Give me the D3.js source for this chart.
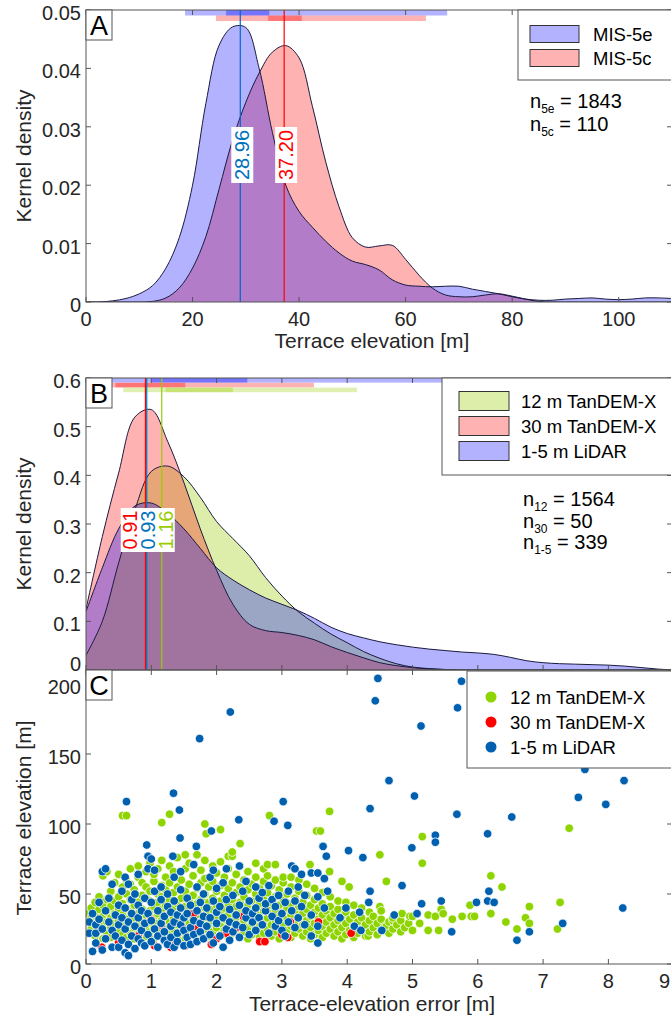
<!DOCTYPE html>
<html><head><meta charset="utf-8">
<script src="https://cdn.jsdelivr.net/npm/d3@7"></script>
<style>body{margin:0;background:#fff}svg{display:block;font-family:"Liberation Sans",Arial,sans-serif}</style>
</head><body><svg id="c" width="671" height="1020"></svg>
<script>
// ---------- DATA ----------
// Panel A: kernel density of terrace elevation
const elevGrid = [0,2.5,5,7.5,10,12.5,15,17.5,20,22.5,25,27.5,30,32.5,35,37.5,40,42.5,45,47.5,50,52.5,55,57.5,60,62.5,65,67.5,70,72.5,75,77.5,80,82.5,85,87.5,90,92.5,95,97.5,100,102.5,105,107.5,110];
const dens5e = [0,0,0.0002,0.0006,0.0014,0.0028,0.0058,0.011,0.020,0.034,0.044,0.0471,0.0470,0.040,0.029,0.020,0.0155,0.0128,0.0104,0.0084,0.0070,0.0064,0.0055,0.0038,0.0029,0.0027,0.0026,0.0027,0.0027,0.0022,0.0018,0.0014,0.0009,0.0005,0.0003,0.0003,0.0005,0.0006,0.0007,0.0005,0.0004,0.0005,0.0007,0.0007,0.0006];
const dens5c = [0,0,0,0,0,0.0001,0.0007,0.0024,0.0058,0.0112,0.0194,0.0277,0.0342,0.0392,0.0428,0.0439,0.0418,0.0335,0.0240,0.0163,0.0110,0.0094,0.0096,0.0097,0.0073,0.0046,0.0024,0.0012,0.0009,0.0009,0.0012,0.0014,0.0010,0.0005,0.0001,0,0,0,0,0,0,0,0,0,0];
const seriesA = ["MIS-5e","MIS-5c"];
const medianA = [28.96, 37.20];
const rangeA = [[18.6,67.8],[24.4,63.8]];      // light bars
const coreA = [[26.3,34.4],[34.2,40.5]];       // dark bars
const nLabelsA = [["5e","1843"],["5c","110"]];
const xTicksA = [0,20,40,60,80,100];
const yTicksA = [0,0.01,0.02,0.03,0.04,0.05];

// Panel B: kernel density of terrace-elevation error
const errGrid = [0,0.25,0.5,0.75,1,1.25,1.5,1.75,2,2.25,2.5,2.75,3,3.25,3.5,3.75,4,4.25,4.5,4.75,5,5.25,5.5,5.75,6,6.25,6.5,6.75,7,7.25,7.5,7.75,8,8.25,8.5,8.75,9];
const dens12 = [0.03,0.10,0.22,0.33,0.408,0.419,0.397,0.355,0.305,0.27,0.235,0.19,0.152,0.12,0.096,0.074,0.056,0.038,0.024,0.013,0.006,0.003,0.001,0,0,0,0,0,0,0,0,0,0,0,0,0,0];
const dens30 = [0.125,0.274,0.405,0.52,0.535,0.47,0.385,0.29,0.205,0.135,0.094,0.081,0.077,0.071,0.062,0.048,0.036,0.025,0.015,0.009,0.005,0.002,0.001,0,0,0,0,0,0,0,0,0,0,0,0,0,0];
const dens15 = [0.12,0.21,0.29,0.337,0.343,0.322,0.29,0.25,0.21,0.185,0.165,0.148,0.135,0.122,0.106,0.088,0.075,0.066,0.058,0.052,0.047,0.043,0.040,0.037,0.035,0.032,0.026,0.019,0.015,0.013,0.012,0.011,0.010,0.008,0.005,0.002,0];
const seriesB = ["12 m TanDEM-X","30 m TanDEM-X","1-5 m LiDAR"];
const medianB = [1.16, 0.91, 0.93];
const rangeB = [[0.57,4.15],[0.4,3.49],[0.4,6.3]];
const coreB = [[1.22,2.25],[0.45,1.52],[1.0,2.47]];
const nLabelsB = [["12","1564"],["30","50"],["1-5","339"]];
const xTicksB = [0,1,2,3,4,5,6,7,8,9];
const yTicksB = [0,0.1,0.2,0.3,0.4,0.5,0.6];

// Panel C: scatter, each row = [error, elevation, elevation, ...]
const pts12 = [[0.02,22,30,36],[0.08,25,33,40],[0.14,20,28,35,44],[0.2,24,31,39,48],[0.26,18,27,34,42,63],[0.32,22,30,37,46,66],[0.38,19,26,33,41,52],[0.44,24,29,36,45,58],[0.5,17,23,31,39,48,64],[0.56,21,28,35,43,55,106],[0.62,19,25,32,40,50,60,106],[0.68,22,29,37,46,57,68],[0.74,18,26,33,42,53],[0.8,21,28,36,44,62,70],[0.86,16,24,31,39,49,58],[0.92,20,27,35,47,55,66],[0.98,23,30,38,45,52,72],[1.04,18,26,33,41,59,64],[1.1,21,29,36,44,50,68],[1.16,24,31,39,48,56,74,101],[1.22,19,27,34,42,53,62],[1.28,22,30,37,46,58,70,107],[1.34,17,25,33,40,51,66],[1.4,20,28,35,43,55,76],[1.46,23,31,38,47,60],[1.52,18,26,34,41,52,68,78],[1.58,21,29,36,45,57,72],[1.64,24,32,39,49,63],[1.7,19,27,35,43,54,78],[1.76,22,30,38,46,58,67],[1.82,25,33,40,50,61,74,100],[1.84,93],[1.88,20,28,36,44,55],[1.94,23,31,39,47,59,70],[2.0,18,26,34,42,52,65],[2.06,21,29,37,45,56,73,96],[2.12,24,32,40,49,62],[2.18,19,27,35,43,54,68,77],[2.24,22,30,38,46,58,77,80],[2.3,25,33,41,51,64],[2.36,20,28,36,44,55,70,86],[2.42,23,31,39,48,60],[2.48,18,26,34,42,53,66],[2.54,21,29,37,45,57],[2.6,24,32,40,50,62,72],[2.66,19,27,35,43,54],[2.72,22,30,38,47,59,68],[2.78,25,33,41,51,63,71],[2.81,106],[2.84,20,28,36,44,56],[2.9,23,31,39,48,60,71],[2.96,18,26,34,42,53],[3.02,21,29,37,46,58,62],[3.08,24,32,40,50],[3.14,19,27,35,43,55,62],[3.2,22,30,38,47],[3.26,25,33,41,52,60],[3.32,20,28,36,44],[3.38,23,31,39,49,57],[3.43,71],[3.44,18,26,34,42],[3.5,21,29,37,46,54],[3.53,95],[3.56,24,32,40],[3.59,95],[3.62,19,27,35,43,51],[3.68,22,30,38],[3.73,109,66],[3.74,25,33,41,48],[3.8,20,28,36],[3.86,23,31,39,45],[3.92,18,26,34,59],[3.98,21,29,37,44],[4.03,55],[4.04,24,32],[4.1,19,27,35,42],[4.16,22,30],[4.22,25,33,40],[4.28,20,28],[4.32,20],[4.34,23,31,37],[4.4,26,34],[4.46,21,29],[4.5,78,41],[4.52,24,32,38],[4.58,27],[4.6,27,59],[4.64,22,30],[4.7,25,31,33],[4.76,28],[4.82,23,31],[4.84,36],[4.88,26],[4.94,29],[4.96,34],[5.0,24,34],[5.11,29],[5.15,91,72],[5.24,35,24],[5.35,34],[5.4,24],[5.44,39],[5.47,36],[5.61,32],[5.76,34],[5.88,42],[5.9,34],[5.95,34],[6.2,63,36],[6.37,55],[6.43,30],[6.6,25],[6.73,33],[6.79,29,41],[7.22,25],[7.26,44],[7.4,97]];
const pts30 = [[0.24,12],[0.3,18],[0.5,16],[0.8,20],[0.99,32],[1.05,13],[1.15,28],[1.3,12],[1.37,14],[1.5,25],[1.52,13],[1.65,36],[1.67,25],[1.92,14],[2.0,18],[2.15,22],[2.3,26],[2.41,34],[2.66,16],[2.74,16],[3.0,21],[3.09,19],[3.13,30],[3.56,30],[4.06,22]];
const pts15 = [[0.05,22,30],[0.1,9,36],[0.15,22,28,15],[0.2,32,44],[0.25,10,66,25],[0.3,68,18,38],[0.35,30,47],[0.4,57,12,24],[0.45,35,20],[0.5,12,42,28],[0.55,17,33,52],[0.6,8,62,25,40],[0.62,116],[0.65,6,57,14,30],[0.7,20,36,46],[0.75,11,27,50],[0.8,64,18,33,42],[0.85,15,24,38],[0.9,29,47,13],[0.93,85],[0.95,77,68,21,36],[1.0,75,16,31,44],[1.05,67,25,52],[1.1,12,38,20],[1.15,29,46,55],[1.2,17,34,23],[1.25,41,14,50],[1.3,27,37,19],[1.33,77],[1.34,122],[1.35,62,30,45,12],[1.4,22,35,16],[1.43,110],[1.44,90],[1.45,66,28,40,53],[1.5,13,24,33],[1.55,19,47,36],[1.6,26,14,42],[1.65,71,31,21],[1.69,84],[1.7,38,16,55],[1.74,161],[1.75,23,44,29],[1.8,34,18,50],[1.85,27,40],[1.9,21,62,33],[1.92,95],[1.95,67,15,45],[2.0,29,37,54],[2.05,20,41],[2.1,12,33,58],[2.15,68,25,46],[2.2,30,17,39],[2.21,180],[2.25,49,23],[2.3,35,28],[2.34,103],[2.35,70,42,19],[2.4,26,52],[2.45,59,33,38],[2.5,45,21],[2.55,30,36],[2.6,40,24,55],[2.65,33,47],[2.7,28,51],[2.75,38,43],[2.8,22,56],[2.85,34,46],[2.88,102],[2.9,41,27],[2.95,49,31],[3.0,36,24],[3.02,116],[3.05,44,20],[3.09,99],[3.1,30,52],[3.15,70,38],[3.2,68,26,45],[3.25,33,55],[3.3,64,41],[3.35,28,49],[3.45,65,35,20],[3.55,65,48,27,15],[3.63,84],[3.65,61,40],[3.68,77],[3.7,52],[3.89,33],[3.98,40],[4.02,81],[4.11,27],[4.19,37],[4.21,24],[4.24,76],[4.33,44],[4.35,52,111],[4.43,188],[4.47,204],[4.53,24],[4.64,131],[4.72,35],[4.84,56],[4.99,83],[5.03,120],[5.07,36],[5.13,170],[5.14,43],[5.35,92,87],[5.44,45],[5.6,23],[5.68,107],[5.69,183],[5.75,202],[5.98,44],[6.15,93,45],[6.17,52],[6.25,44],[6.52,105],[6.6,17],[6.79,23],[7.3,29],[7.54,119],[7.64,139],[7.96,114],[8.22,40],[8.24,131]];
const seriesC = ["12 m TanDEM-X","30 m TanDEM-X","1-5 m LiDAR"];
const yTicksC = [0,50,100,150,200];

// ---------- STYLE ----------
const FONT = 20, AXC = "#262626", BOXC = "#555";
const fillBlue = "#0000ff", fillRed = "#ff0000", fillGreen = "#99cc00";
const lineBlue = "#0066cc", lineRed = "#ff0000";
const outline = "#1a1a40";
const dotCols = ["#8ed400", "#ff0000", "#0060b0"];

const svg = d3.select("#c");
const L = 86, R = 672, W = 671;

function frame(x, y, xt, yt, showXLabels, yFmt, yLabelShift) {
  const [y0, y1] = y.range(); // bottom, top
  const g = svg.append("g");
  xt.forEach(t => {
    g.append("line").attr("x1", x(t)).attr("x2", x(t)).attr("y1", y0).attr("y2", y0 - 5).attr("stroke", BOXC);
    g.append("line").attr("x1", x(t)).attr("x2", x(t)).attr("y1", y1).attr("y2", y1 + 5).attr("stroke", BOXC);
  });
  yt.forEach(t => {
    g.append("line").attr("x1", L).attr("x2", L + 5).attr("y1", y(t)).attr("y2", y(t)).attr("stroke", BOXC);
    g.append("line").attr("x1", R - 5).attr("x2", R).attr("y1", y(t)).attr("y2", y(t)).attr("stroke", BOXC);
  });
  g.append("rect").attr("x", L).attr("y", y1).attr("width", R - L).attr("height", y0 - y1)
    .attr("fill", "none").attr("stroke", BOXC).attr("stroke-width", 1);
  yt.forEach(t => {
    g.append("text").attr("x", L - 5).attr("y", y(t) + 3 + (yLabelShift ? yLabelShift(t) : 0))
      .attr("text-anchor", "end").attr("dominant-baseline", "central")
      .attr("font-size", FONT).attr("fill", AXC).text(yFmt(t));
  });
  if (showXLabels) xt.forEach(t => {
    const px = x(t);
    const overflow = px + 7 > W;   // keep the last label inside the picture
    g.append("text").attr("x", overflow ? W - 1 : px).attr("y", y0 + 17)
      .attr("text-anchor", overflow ? "end" : "middle")
      .attr("dominant-baseline", "central").attr("font-size", FONT).attr("fill", AXC).text(t);
  });
}
function panelLetter(ch, top) {
  svg.append("rect").attr("x", L).attr("y", top).attr("width", 26).attr("height", 30)
    .attr("fill", "#fff").attr("stroke", BOXC);
  svg.append("text").attr("x", L + 13).attr("y", top + 16).attr("text-anchor", "middle")
    .attr("dominant-baseline", "central").attr("font-size", 27).attr("fill", "#000").text(ch);
}
function yTitle(txt, cy) {
  svg.append("text").attr("transform", `translate(23,${cy}) rotate(-90)`).attr("text-anchor", "middle")
    .attr("dominant-baseline", "central").attr("font-size", 21).attr("fill", AXC).text(txt);
}
function xTitle(txt, cy) {
  svg.append("text").attr("x", 372).attr("y", cy).attr("text-anchor", "middle")
    .attr("dominant-baseline", "central").attr("font-size", 21).attr("fill", AXC).text(txt);
}
function nText(x0, y0, sub, val) {
  const t = svg.append("text").attr("x", x0).attr("y", y0).attr("font-size", FONT).attr("fill", "#000");
  t.append("tspan").text("n");
  t.append("tspan").attr("dy", 5).attr("font-size", 12).text(sub);
  t.append("tspan").attr("dy", -5).text(" = " + val);
}

// ================= PANEL A =================
const xA = d3.scaleLinear().domain([0, 110]).range([L, R]);
const yA = d3.scaleLinear().domain([0, 0.05]).range([302, 10]);
svg.append("clipPath").attr("id", "clipA").append("rect").attr("x", L).attr("y", 10).attr("width", R - L).attr("height", 292);
const areaA = vals => d3.area().x((d, i) => xA(elevGrid[i])).y0(yA(0)).y1((d) => yA(d)).curve(d3.curveCatmullRom.alpha(0.5))(vals);
const lineA = vals => d3.line().x((d, i) => xA(elevGrid[i])).y((d) => yA(d)).curve(d3.curveCatmullRom.alpha(0.5))(vals);
const gA = svg.append("g").attr("clip-path", "url(#clipA)");
[[dens5c, fillRed], [dens5e, fillBlue]].forEach(([v, c]) => {
  gA.append("path").attr("d", areaA(v)).attr("fill", c).attr("fill-opacity", 0.3);
});
[dens5c, dens5e].forEach(v => gA.append("path").attr("d", lineA(v)).attr("fill", "none").attr("stroke", outline).attr("stroke-width", 1));
const barColsA = [fillBlue, fillRed];
[0, 1].forEach(i => {
  const yb = 10 + i * 5.5;
  gA.append("rect").attr("x", xA(rangeA[i][0])).attr("width", xA(rangeA[i][1]) - xA(rangeA[i][0])).attr("y", yb).attr("height", 5.5).attr("fill", barColsA[i]).attr("fill-opacity", 0.3);
  gA.append("rect").attr("x", xA(coreA[i][0])).attr("width", xA(coreA[i][1]) - xA(coreA[i][0])).attr("y", yb).attr("height", 5.5).attr("fill", barColsA[i]).attr("fill-opacity", 0.35);
});
const medColsA = [lineBlue, lineRed];
medianA.forEach((m, i) => {
  gA.append("line").attr("x1", xA(m)).attr("x2", xA(m)).attr("y1", 10).attr("y2", 302).attr("stroke", medColsA[i]).attr("stroke-width", 1.2);
});
medianA.forEach((m, i) => {
  const cx = xA(m) + 2, cy = 155;
  svg.append("rect").attr("x", cx - 11).attr("y", cy - 28).attr("width", 22).attr("height", 56).attr("fill", "#fff");
  svg.append("text").attr("transform", `translate(${cx},${cy}) rotate(-90)`).attr("text-anchor", "middle")
    .attr("dominant-baseline", "central").attr("font-size", FONT).attr("fill", i === 0 ? "#0072bd" : "#ff0000").text(m.toFixed(2));
});
frame(xA, yA, xTicksA, yTicksA, true, d => d === 0 ? "0" : d.toFixed(2));
panelLetter("A", 10);
svg.append("rect").attr("x", 518).attr("y", 10).attr("width", 170).attr("height", 70).attr("fill", "#fff").attr("stroke", BOXC);
seriesA.forEach((s, i) => {
  const cy = 34 + i * 24;
  svg.append("rect").attr("x", 530).attr("y", cy - 8.5).attr("width", 49).attr("height", 17).attr("fill", barColsA[i]).attr("fill-opacity", 0.3).attr("stroke", "#333");
  svg.append("text").attr("x", 593).attr("y", cy).attr("dominant-baseline", "central").attr("font-size", 18.5).attr("fill", "#000").text(s);
});
nLabelsA.forEach((n, i) => nText(530, 108 + i * 23, n[0], n[1]));
yTitle("Kernel density", 156);
xTitle("Terrace elevation [m]", 340);

// ================= PANEL B =================
const xB = d3.scaleLinear().domain([0, 9]).range([L, L + 9 * 65.3]);
const yB = d3.scaleLinear().domain([0, 0.6]).range([670, 378]);
svg.append("clipPath").attr("id", "clipB").append("rect").attr("x", L).attr("y", 378).attr("width", R - L).attr("height", 292);
const areaB = vals => d3.area().x((d, i) => xB(errGrid[i])).y0(yB(0)).y1(d => yB(d)).curve(d3.curveCatmullRom.alpha(0.5))(vals);
const lineB = vals => d3.line().x((d, i) => xB(errGrid[i])).y(d => yB(d)).curve(d3.curveCatmullRom.alpha(0.5))(vals);
const gB = svg.append("g").attr("clip-path", "url(#clipB)");
const densB = [dens12, dens30, dens15];
const fillsB = [fillGreen, fillRed, fillBlue];
const fillOpB = [0.33, 0.3, 0.3];
densB.forEach((v, i) => gB.append("path").attr("d", areaB(v)).attr("fill", fillsB[i]).attr("fill-opacity", fillOpB[i]));
densB.forEach(v => gB.append("path").attr("d", lineB(v)).attr("fill", "none").attr("stroke", outline).attr("stroke-width", 1));
const barOrder = [2, 1, 0];
barOrder.forEach((si, k) => {
  const yb = 378 + k * 4.8;
  gB.append("rect").attr("x", xB(rangeB[si][0])).attr("width", xB(rangeB[si][1]) - xB(rangeB[si][0])).attr("y", yb).attr("height", 4.6).attr("fill", fillsB[si]).attr("fill-opacity", 0.3);
  gB.append("rect").attr("x", xB(coreB[si][0])).attr("width", xB(coreB[si][1]) - xB(coreB[si][0])).attr("y", yb).attr("height", 4.6).attr("fill", fillsB[si]).attr("fill-opacity", 0.35);
});
const medColsB = ["#99cc00", "#ff0000", "#0072bd"];
medianB.forEach((m, i) => gB.append("line").attr("x1", xB(m)).attr("x2", xB(m)).attr("y1", 378).attr("y2", 670).attr("stroke", medColsB[i]).attr("stroke-width", 1.2));
const labOrder = [1, 2, 0];
const baseX = xB(medianB[2]);
const labX = labOrder.map((si, k) => baseX - 17 + k * 18);
svg.append("rect").attr("x", labX[0] - 9).attr("y", 508).attr("width", labX[2] - labX[0] + 18).attr("height", 44).attr("fill", "#fff");
labOrder.forEach((si, k) => {
  svg.append("text").attr("transform", `translate(${labX[k]},530) rotate(-90)`).attr("text-anchor", "middle")
    .attr("dominant-baseline", "central").attr("font-size", FONT).attr("fill", medColsB[si]).text(medianB[si].toFixed(2));
});
frame(xB, yB, xTicksB, yTicksB, false, d => d === 0 ? "0" : d.toFixed(1), t => t === 0 ? -9 : 0);
panelLetter("B", 378);
svg.append("rect").attr("x", 442).attr("y", 378).attr("width", 250).attr("height", 97).attr("fill", "#fff").attr("stroke", BOXC);
seriesB.forEach((s, i) => {
  const cy = 401 + i * 25;
  svg.append("rect").attr("x", 459).attr("y", cy - 9.5).attr("width", 50).attr("height", 19).attr("fill", fillsB[i]).attr("fill-opacity", fillOpB[i]).attr("stroke", "#333");
  svg.append("text").attr("x", 521).attr("y", cy).attr("dominant-baseline", "central").attr("font-size", 18.5).attr("fill", "#000").text(s);
});
nLabelsB.forEach((n, i) => nText(523, 506 + i * 21.5, n[0], n[1]));
yTitle("Kernel density", 524);

// ================= PANEL C =================
const xC = xB;
const yC = d3.scaleLinear().domain([0, 210]).range([964, 670]);
svg.append("clipPath").attr("id", "clipC").append("rect").attr("x", L).attr("y", 670).attr("width", R - L).attr("height", 294);
const gC = svg.append("g").attr("clip-path", "url(#clipC)");
const flat = rows => rows.flatMap(r => r.slice(1).map(h => [r[0], h]));
[pts12, pts30, pts15].forEach((rows, i) => {
  gC.selectAll(null).data(flat(rows)).enter().append("circle")
    .attr("cx", d => xC(d[0])).attr("cy", d => yC(d[1])).attr("r", 4.3)
    .attr("fill", dotCols[i]).attr("stroke", "#fff").attr("stroke-width", 0.8);
});
frame(xC, yC, xTicksB, yTicksC, true, d => d);
panelLetter("C", 670);
svg.append("rect").attr("x", 467).attr("y", 671).attr("width", 230).attr("height", 97).attr("fill", "#fff").attr("stroke", BOXC);
seriesC.forEach((s, i) => {
  const cy = 697 + i * 25;
  svg.append("circle").attr("cx", 491).attr("cy", cy).attr("r", 5.5).attr("fill", dotCols[i]);
  svg.append("text").attr("x", 510).attr("y", cy).attr("dominant-baseline", "central").attr("font-size", 18.5).attr("fill", "#000").text(s);
});
yTitle("Terrace elevation [m]", 818);
xTitle("Terrace-elevation error [m]", 1003);
</script></body></html>
